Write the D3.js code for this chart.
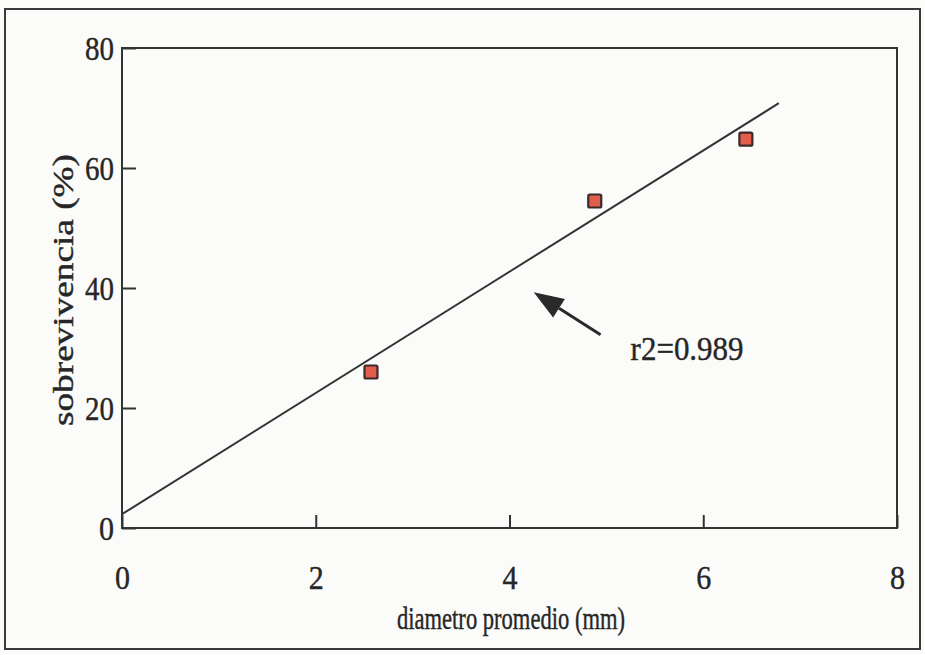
<!DOCTYPE html>
<html><head><meta charset="utf-8">
<script src="https://cdn.jsdelivr.net/npm/d3@7"></script>
<style>
html,body{margin:0;padding:0;background:#fbfbfa;}
svg{display:block;}
</style></head>
<body>
<script>
// Data
const diametro = [2.57, 4.88, 6.44];
const sobrevivencia = [26, 54.5, 64.8];
const fitX = [0, 6.78];
const fitY = [2.3, 70.8];
const xTicks = [0, 2, 4, 6, 8];
const yTicks = [0, 20, 40, 60, 80];
const annotation = "r2=0.989";
const xLabel = "diametro promedio (mm)";
const yLabel = "sobrevivencia (%)";

const W = 925, H = 655;
const m = {left:122, right:25, top:48, bottom:127};
const FONT = '"Liberation Serif","Times New Roman",serif';
const TXT = "#262626";
const svg = d3.select("body").append("svg").attr("width", W).attr("height", H);

// outer frame
svg.append("rect").attr("x",5).attr("y",9).attr("width",915).attr("height",640)
  .attr("fill","none").attr("stroke","#3a3a3a").attr("stroke-width",2);

const x = d3.scaleLinear().domain([0,8]).range([m.left, W - m.right - 3]);
const y = d3.scaleLinear().domain([0,80]).range([H - m.bottom, m.top]);

const ink = "#333";

// axes with inward ticks
const gx = svg.append("g").attr("transform",`translate(0,${y(0)})`)
  .call(d3.axisBottom(x).tickValues(xTicks).tickSize(-13).tickPadding(0).tickFormat(d3.format("d")));
const gy = svg.append("g").attr("transform",`translate(${x(0)},0)`)
  .call(d3.axisLeft(y).tickValues(yTicks).tickSize(-14).tickPadding(0).tickFormat(d3.format("d")));
[gx, gy].forEach(g => {
  g.select(".domain").remove();
  g.selectAll(".tick line").attr("stroke", ink).attr("stroke-width", 2);
  g.selectAll(".tick text").attr("font-size", 34).attr("fill", TXT)
    .attr("stroke", TXT).attr("stroke-width", 0.4)
    .attr("font-family", FONT);
});
gx.selectAll(".tick text").attr("dy", null).attr("y", 61)
  .attr("textLength", 15).attr("lengthAdjust","spacingAndGlyphs");
gy.selectAll(".tick text").attr("x", -8).attr("dy","0.34em")
  .attr("textLength", d => d === 0 ? 15 : 29).attr("lengthAdjust","spacingAndGlyphs");

// plot frame
svg.append("rect").attr("x", x(0)).attr("y", y(80))
  .attr("width", x(8) - x(0)).attr("height", y(0) - y(80))
  .attr("fill","none").attr("stroke", ink).attr("stroke-width", 2);

// fit line
svg.append("line").attr("x1", x(fitX[0])).attr("y1", y(fitY[0]))
  .attr("x2", x(fitX[1])).attr("y2", y(fitY[1]))
  .attr("stroke", ink).attr("stroke-width", 2);

// markers
const s = 13;
svg.append("g").selectAll("rect").data(diametro).join("rect")
  .attr("x", d => x(d) - s/2).attr("y", (d,i) => y(sobrevivencia[i]) - s/2)
  .attr("width", s).attr("height", s).attr("rx", 1.5)
  .attr("fill", "#e35d4c").attr("stroke", "#3a2a2a").attr("stroke-width", 2.2);

// arrow annotation
const tail = [x(4.94), y(32.2)], tip = [x(4.25), y(39.3)];
const ang = Math.atan2(tip[1]-tail[1], tip[0]-tail[0]);
const hl = 30, hw = 11;
const bx = tip[0] - hl*Math.cos(ang), by = tip[1] - hl*Math.sin(ang);
svg.append("line").attr("x1", tail[0]).attr("y1", tail[1]).attr("x2", bx).attr("y2", by)
  .attr("stroke", "#2a2a2a").attr("stroke-width", 3);
svg.append("path").attr("d", `M${tip[0]},${tip[1]} L${bx + hw*Math.sin(ang)},${by - hw*Math.cos(ang)} L${bx - hw*Math.sin(ang)},${by + hw*Math.cos(ang)} Z`)
  .attr("fill", "#2a2a2a");

function label(sel){ return sel.attr("font-family", FONT).attr("fill", TXT)
  .attr("stroke", TXT).attr("stroke-width", 0.4).attr("lengthAdjust","spacingAndGlyphs"); }

label(svg.append("text")).attr("x", x(5.25)).attr("y", y(28.3) + 2).attr("font-size", 33)
  .attr("textLength", 113).text(annotation);

// axis labels
label(svg.append("text")).attr("x", 511).attr("y", 629).attr("text-anchor","middle")
  .attr("font-size", 31).attr("textLength", 228).text(xLabel);
label(svg.append("text")).attr("transform", "translate(73,290) rotate(-90)").attr("text-anchor","middle")
  .attr("font-size", 30).attr("textLength", 272).text(yLabel);
</script>
</body></html>
